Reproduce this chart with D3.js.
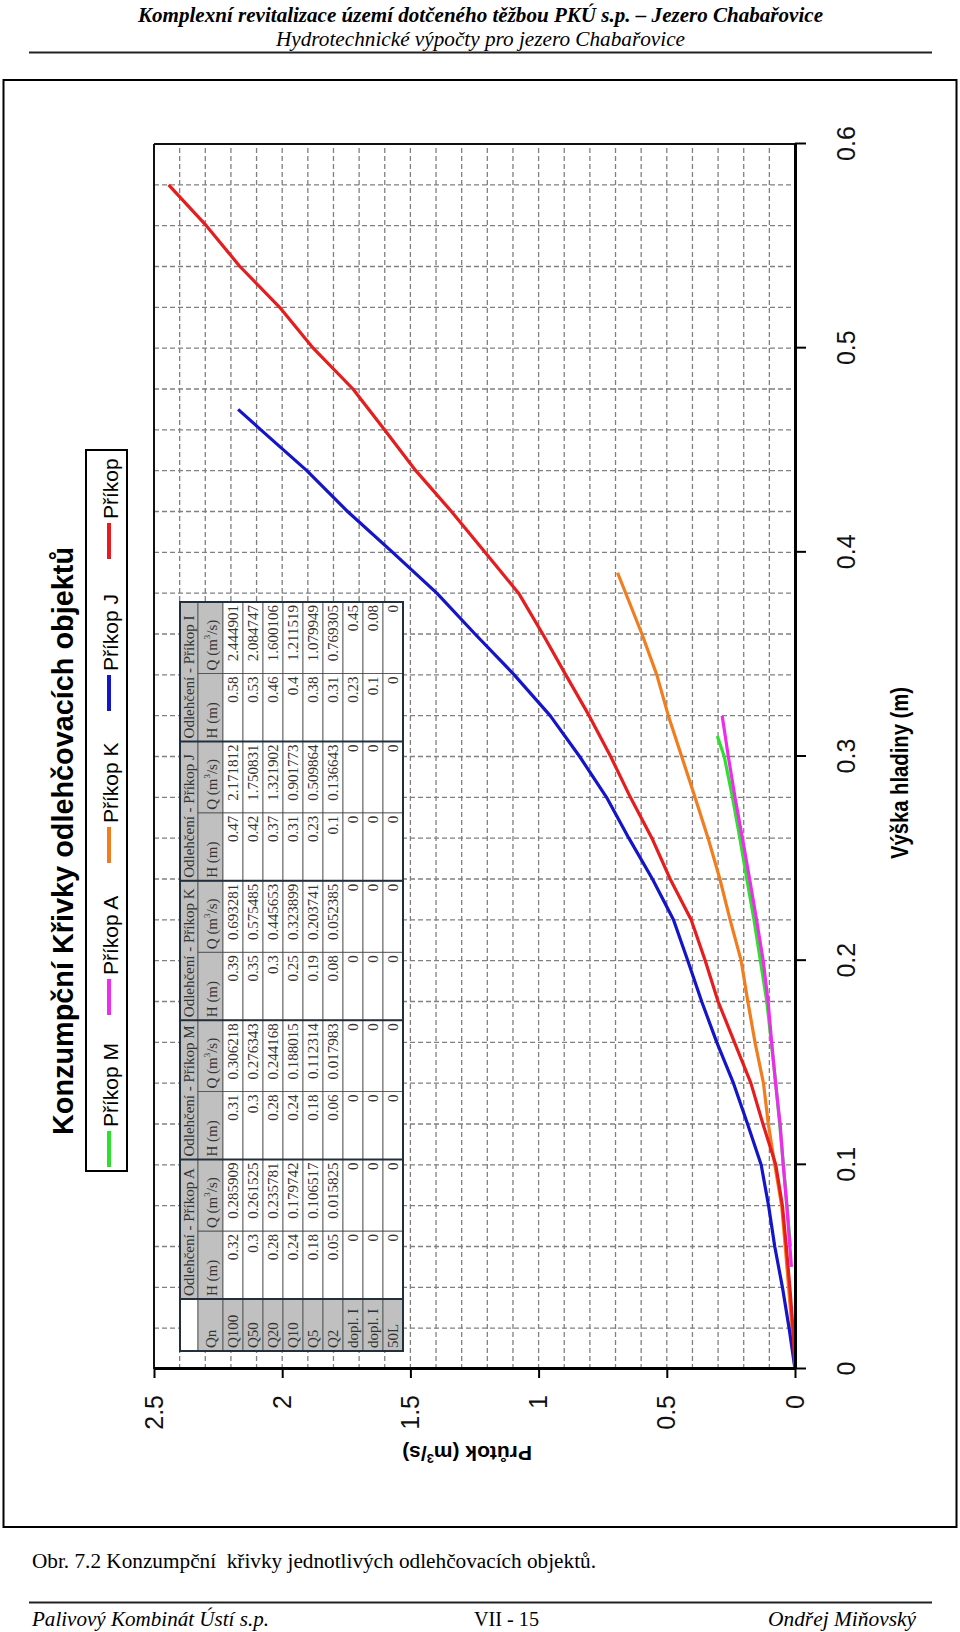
<!DOCTYPE html>
<html>
<head>
<meta charset="utf-8">
<script src="https://cdn.jsdelivr.net/npm/d3@7"></script>
<style>
  body { margin: 0; background: #fff; }
  svg { display: block; }
</style>
</head>
<body>
<script>
// curve values: H = výška hladiny (m), Q = průtok (m3/s)
const hM = [0.06, 0.10, 0.14, 0.18, 0.20, 0.22, 0.24, 0.26, 0.28, 0.30, 0.31];
const qM = [0.018, 0.045, 0.075, 0.110, 0.135, 0.160, 0.188, 0.215, 0.244, 0.276, 0.303];

const hA = [0.05, 0.08, 0.10, 0.12, 0.14, 0.16, 0.18, 0.20, 0.22, 0.24, 0.26, 0.28, 0.30, 0.32];
const qA = [0.014, 0.032, 0.046, 0.058, 0.076, 0.091, 0.105, 0.124, 0.150, 0.177, 0.205, 0.234, 0.260, 0.284];

const hK = [0, 0.02, 0.04, 0.06, 0.08, 0.10, 0.12, 0.14, 0.16, 0.18, 0.20, 0.22, 0.24, 0.26, 0.28, 0.30, 0.32, 0.34, 0.36, 0.39];
const qK = [0, 0.012, 0.025, 0.038, 0.052, 0.079, 0.104, 0.123, 0.156, 0.184, 0.210, 0.253, 0.293, 0.339, 0.390, 0.442, 0.494, 0.539, 0.597, 0.692];

const hJ = [0, 0.02, 0.04, 0.06, 0.08, 0.10, 0.12, 0.14, 0.16, 0.18, 0.20, 0.22, 0.24, 0.26, 0.28, 0.30, 0.32, 0.34, 0.36, 0.38, 0.40, 0.42, 0.44, 0.46, 0.47];
const qJ = [0, 0.023, 0.049, 0.079, 0.103, 0.132, 0.185, 0.240, 0.305, 0.364, 0.418, 0.474, 0.556, 0.648, 0.735, 0.840, 0.955, 1.095, 1.248, 1.397, 1.569, 1.745, 1.904, 2.083, 2.172];

const hI = [0, 0.02, 0.04, 0.06, 0.08, 0.10, 0.12, 0.14, 0.16, 0.18, 0.20, 0.22, 0.24, 0.26, 0.28, 0.30, 0.32, 0.34, 0.36, 0.38, 0.40, 0.42, 0.44, 0.46, 0.48, 0.50, 0.52, 0.54, 0.56, 0.58];
const qI = [0, 0.008, 0.020, 0.034, 0.049, 0.075, 0.125, 0.172, 0.236, 0.300, 0.350, 0.405, 0.487, 0.558, 0.642, 0.719, 0.803, 0.894, 0.984, 1.078, 1.209, 1.340, 1.479, 1.601, 1.724, 1.879, 2.010, 2.165, 2.296, 2.443];

const seriesNames = ["Příkop M", "Příkop A", "Příkop K", "Příkop J", "Příkop I"];

// axis ticks
const hTicks = [0, 0.1, 0.2, 0.3, 0.4, 0.5, 0.6];
const hTickLabels = ["0", "0.1", "0.2", "0.3", "0.4", "0.5", "0.6"];
const qTicks = [0, 0.5, 1, 1.5, 2, 2.5];
const qTickLabels = ["0", "0.5", "1", "1.5", "2", "2.5"];

// table inside the chart
const tableGroups = ["Odlehčení - Příkop A", "Odlehčení - Příkop M", "Odlehčení - Příkop K", "Odlehčení - Příkop J", "Odlehčení - Příkop I"];
const tableRows = ["Q100", "Q50", "Q20", "Q10", "Q5", "Q2", "dopl. I", "dopl. I", "50L"];
const tabH_A = ["0.32", "0.3", "0.28", "0.24", "0.18", "0.05", "0", "0", "0"];
const tabQ_A = ["0.285909", "0.261525", "0.235781", "0.179742", "0.106517", "0.015825", "0", "0", "0"];
const tabH_M = ["0.31", "0.3", "0.28", "0.24", "0.18", "0.06", "0", "0", "0"];
const tabQ_M = ["0.306218", "0.276343", "0.244168", "0.188015", "0.112314", "0.017983", "0", "0", "0"];
const tabH_K = ["0.39", "0.35", "0.3", "0.25", "0.19", "0.08", "0", "0", "0"];
const tabQ_K = ["0.693281", "0.575485", "0.445653", "0.323899", "0.203741", "0.052385", "0", "0", "0"];
const tabH_J = ["0.47", "0.42", "0.37", "0.31", "0.23", "0.1", "0", "0", "0"];
const tabQ_J = ["2.171812", "1.750831", "1.321902", "0.901773", "0.509864", "0.136643", "0", "0", "0"];
const tabH_I = ["0.58", "0.53", "0.46", "0.4", "0.38", "0.31", "0.23", "0.1", "0"];
const tabQ_I = ["2.444901", "2.084747", "1.600106", "1.211519", "1.079949", "0.769305", "0.45", "0.08", "0"];

// page texts
const headTitle = "Komplexní revitalizace území dotčeného těžbou PKÚ s.p. – Jezero Chabařovice";
const headSub = "Hydrotechnické výpočty pro jezero Chabařovice";
const chartTitle = "Konzumpční Křivky odlehčovacích objektů";
const captionText = "Obr. 7.2 Konzumpční  křivky jednotlivých odlehčovacích objektů.";
const footLeft = "Palivový Kombinát Ústí s.p.";
const footMid = "VII - 15";
const footRight = "Ondřej Miňovský";

// styles
const colors = ["#2ee02e", "#ee2cee", "#f27d1e", "#1414cc", "#e81c1c"];
const serif = "'Liberation Serif', 'Times New Roman', serif";
const sans = "'Liberation Sans', Arial, sans-serif";

const W = 960, H = 1632;

const svg = d3.select("body")
              .append("svg")
              .attr("width", W)
              .attr("height", H)
              .style("background-color", "white");

// ---- page header / footer
svg.append("text")
   .attr("x", 138).attr("y", 22)
   .attr("textLength", 685).attr("lengthAdjust", "spacingAndGlyphs")
   .style("font-family", serif).style("font-size", "20px")
   .style("font-weight", "bold").style("font-style", "italic")
   .text(headTitle);

svg.append("text")
   .attr("x", 276).attr("y", 46)
   .attr("textLength", 409).attr("lengthAdjust", "spacingAndGlyphs")
   .style("font-family", serif).style("font-size", "20px")
   .style("font-style", "italic")
   .text(headSub);

svg.append("line")
   .attr("x1", 29).attr("x2", 932).attr("y1", 52.5).attr("y2", 52.5)
   .attr("stroke", "#222").attr("stroke-width", 2);

svg.append("rect")
   .attr("x", 3.5).attr("y", 80).attr("width", 953).attr("height", 1447)
   .attr("fill", "none").attr("stroke", "#000").attr("stroke-width", 2);

svg.append("text")
   .attr("x", 32).attr("y", 1568)
   .attr("textLength", 564).attr("lengthAdjust", "spacingAndGlyphs")
   .style("font-family", serif).style("font-size", "20px")
   .style("white-space", "pre")
   .text(captionText);

svg.append("line")
   .attr("x1", 29).attr("x2", 932).attr("y1", 1602.5).attr("y2", 1602.5)
   .attr("stroke", "#222").attr("stroke-width", 2);

svg.append("text")
   .attr("x", 32).attr("y", 1626)
   .attr("textLength", 237).attr("lengthAdjust", "spacingAndGlyphs")
   .style("font-family", serif).style("font-size", "20px").style("font-style", "italic")
   .text(footLeft);

svg.append("text")
   .attr("x", 474).attr("y", 1626)
   .attr("textLength", 65).attr("lengthAdjust", "spacingAndGlyphs")
   .style("font-family", serif).style("font-size", "20px")
   .text(footMid);

svg.append("text")
   .attr("x", 768).attr("y", 1626)
   .attr("textLength", 148).attr("lengthAdjust", "spacingAndGlyphs")
   .style("font-family", serif).style("font-size", "20px").style("font-style", "italic")
   .text(footRight);

// ---- the chart is printed turned on its side: draw it upright and rotate
const chart = svg.append("g").attr("transform", "translate(0,1470) rotate(-90)");

const hScale = d3.scaleLinear().domain([0, 0.6]).range([101, 1326]);
const qScale = d3.scaleLinear().domain([0, 2.5]).range([795, 154]);

// gridlines
chart.append("g")
     .selectAll("line")
     .data(hScale.ticks(30).filter(d => d > 0 && d < 0.6))
     .enter()
     .append("line")
     .attr("x1", d => hScale(d)).attr("x2", d => hScale(d))
     .attr("y1", qScale(2.5)).attr("y2", qScale(0))
     .attr("stroke", "#808080").attr("stroke-width", 1.3).attr("stroke-dasharray", "5,3");

chart.append("g")
     .selectAll("line")
     .data(qScale.ticks(25).filter(d => d > 0 && d < 2.5))
     .enter()
     .append("line")
     .attr("y1", d => qScale(d)).attr("y2", d => qScale(d))
     .attr("x1", hScale(0)).attr("x2", hScale(0.6))
     .attr("stroke", "#808080").attr("stroke-width", 1.3).attr("stroke-dasharray", "5,3");

// table
const tX = 119, tY = 180, qnW = 52, hW = 68, qW = 71.4, head1 = 18, head2 = 25, rowH = 20;
const groupW = hW + qW;
const tabH = [tabH_A, tabH_M, tabH_K, tabH_J, tabH_I];
const tabQ = [tabQ_A, tabQ_M, tabQ_K, tabQ_J, tabQ_I];
const tableW = qnW + groupW * tableGroups.length;
const tableH = head1 + head2 + rowH * tableRows.length;

const table = chart.append("g")
                   .style("font-family", serif)
                   .style("font-size", "15px")
                   .attr("fill", "#333");

function cell(x, y, w, h, fill) {
   table.append("rect")
        .attr("x", x).attr("y", y).attr("width", w).attr("height", h)
        .attr("fill", fill).attr("stroke", "#4a4a4a").attr("stroke-width", 0.8);
}

cell(tX, tY, qnW, head1, "#fff");
cell(tX, tY + head1, qnW, head2, "#c0c0c0");
table.append("text").attr("x", tX + 3).attr("y", tY + head1 + 18).text("Qn");
tableRows.forEach((r, i) => {
   const y = tY + head1 + head2 + i * rowH;
   cell(tX, y, qnW, rowH, "#c0c0c0");
   table.append("text").attr("x", tX + 3).attr("y", y + 15).text(r);
});

tableGroups.forEach((g, gi) => {
   const gx = tX + qnW + gi * groupW;
   cell(gx, tY, groupW, head1, "#c0c0c0");
   table.append("text").attr("x", gx + 3).attr("y", tY + 14).text(g);
   cell(gx, tY + head1, hW, head2, "#c0c0c0");
   cell(gx + hW, tY + head1, qW, head2, "#c0c0c0");
   table.append("text").attr("x", gx + 3).attr("y", tY + head1 + 19).text("H (m)");
   const qt = table.append("text").attr("x", gx + hW + 3).attr("y", tY + head1 + 19);
   qt.append("tspan").text("Q (m");
   qt.append("tspan").attr("dy", -7).style("font-size", "9px").text("3");
   qt.append("tspan").attr("dy", 7).text("/s)");
   tableRows.forEach((r, i) => {
      const y = tY + head1 + head2 + i * rowH;
      cell(gx, y, hW, rowH, "#fff");
      cell(gx + hW, y, qW, rowH, "#fff");
      table.append("text").attr("x", gx + hW - 3).attr("y", y + 15)
           .attr("text-anchor", "end").text(tabH[gi][i]);
      table.append("text").attr("x", gx + groupW - 3).attr("y", y + 15)
           .attr("text-anchor", "end").text(tabQ[gi][i]);
   });
   table.append("line")
        .attr("x1", gx).attr("x2", gx).attr("y1", tY).attr("y2", tY + tableH)
        .attr("stroke", "#22303e").attr("stroke-width", 2);
});

table.append("rect")
     .attr("x", tX).attr("y", tY).attr("width", tableW).attr("height", tableH)
     .attr("fill", "none").attr("stroke", "#22303e").attr("stroke-width", 2);

// curves
const series = [
   { name: seriesNames[0], h: hM, q: qM, color: colors[0] },
   { name: seriesNames[1], h: hA, q: qA, color: colors[1] },
   { name: seriesNames[2], h: hK, q: qK, color: colors[2] },
   { name: seriesNames[3], h: hJ, q: qJ, color: colors[3] },
   { name: seriesNames[4], h: hI, q: qI, color: colors[4] }
];

const line = d3.line()
               .x(d => hScale(d[0]))
               .y(d => qScale(d[1]));

chart.append("g")
     .selectAll("path")
     .data(series)
     .enter()
     .append("path")
     .attr("d", s => line(s.h.map((h, i) => [h, s.q[i]])))
     .attr("fill", "none")
     .attr("stroke", s => s.color)
     .attr("stroke-width", 3.2)
     .attr("stroke-linejoin", "round");

// plot border (top and right in upright view)
chart.append("line")
     .attr("x1", hScale(0)).attr("x2", hScale(0.6))
     .attr("y1", qScale(2.5)).attr("y2", qScale(2.5))
     .attr("stroke", "#111").attr("stroke-width", 2);
chart.append("line")
     .attr("x1", hScale(0.6)).attr("x2", hScale(0.6))
     .attr("y1", qScale(2.5)).attr("y2", qScale(0))
     .attr("stroke", "#111").attr("stroke-width", 2);

// axes
const hAxis = d3.axisBottom(hScale)
                .tickValues(hTicks)
                .tickFormat((d, i) => hTickLabels[i])
                .tickSize(11)
                .tickSizeOuter(0)
                .tickPadding(31);

const qAxis = d3.axisLeft(qScale)
                .tickValues(qTicks)
                .tickFormat((d, i) => qTickLabels[i])
                .tickSize(9)
                .tickSizeOuter(0)
                .tickPadding(17);

const gh = chart.append("g")
                .attr("transform", "translate(0," + qScale(0) + ")")
                .call(hAxis);
const gq = chart.append("g")
                .attr("transform", "translate(" + hScale(0) + ",0)")
                .call(qAxis);

[gh, gq].forEach(g => {
   g.select(".domain").attr("stroke", "#000").attr("stroke-width", 3);
   g.selectAll(".tick line").attr("stroke", "#000").attr("stroke-width", 2);
   g.selectAll(".tick text")
    .attr("fill", "#111")
    .style("font-family", sans)
    .style("font-size", "25px");
});

// axis titles
chart.append("text")
     .attr("x", 697).attr("y", 908)
     .attr("text-anchor", "middle")
     .attr("textLength", 172).attr("lengthAdjust", "spacingAndGlyphs")
     .style("font-family", sans).style("font-size", "23px").style("font-weight", "bold")
     .text("Výška hladiny (m)");

const qTitle = chart.append("text")
                    .attr("transform", "translate(24,467) rotate(-90)")
                    .attr("text-anchor", "middle")
                    .style("font-family", sans).style("font-size", "21px").style("font-weight", "bold");
qTitle.append("tspan").text("Průtok (m");
qTitle.append("tspan").attr("dy", -8).style("font-size", "13px").text("3");
qTitle.append("tspan").attr("dy", 8).text("/s)");

// chart title
chart.append("text")
     .attr("x", 629).attr("y", 73)
     .attr("text-anchor", "middle")
     .attr("textLength", 588).attr("lengthAdjust", "spacingAndGlyphs")
     .style("font-family", sans).style("font-size", "30px").style("font-weight", "bold")
     .text(chartTitle);

// legend (last entry is cut off by the box, as in the print)
const legX = 299, legY = 86, legW = 721, legH = 41, legStep = 152;

chart.append("defs")
     .append("clipPath").attr("id", "legclip")
     .append("rect")
     .attr("x", legX).attr("y", legY).attr("width", legW).attr("height", legH);

chart.append("rect")
     .attr("x", legX).attr("y", legY).attr("width", legW).attr("height", legH)
     .attr("fill", "#fff").attr("stroke", "#000").attr("stroke-width", 2);

const legend = chart.append("g").attr("clip-path", "url(#legclip)");

const entry = legend.selectAll("g")
                    .data(series)
                    .enter()
                    .append("g")
                    .attr("transform", (d, i) => "translate(" + (legX + 4 + i * legStep) + ",0)");

entry.append("line")
     .attr("x1", 0).attr("x2", 36).attr("y1", 109).attr("y2", 109)
     .attr("stroke", d => d.color).attr("stroke-width", 4);

entry.append("text")
     .attr("x", 40).attr("y", 118)
     .style("font-family", sans).style("font-size", "21px")
     .text(d => d.name);
</script>
</body>
</html>
